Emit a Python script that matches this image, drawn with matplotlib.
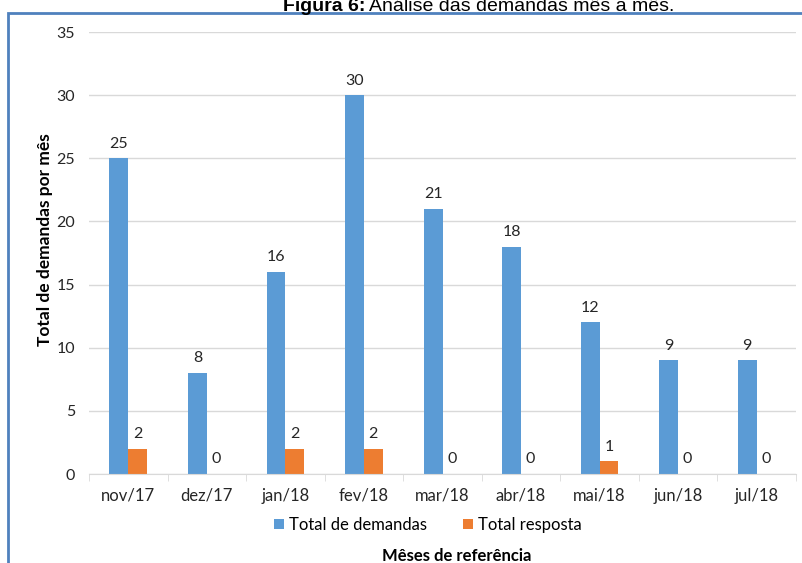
import numpy as np
import matplotlib.pyplot as plt
from matplotlib.patches import Rectangle

meses = ['nov/17', 'dez/17', 'jan/18', 'fev/18', 'mar/18', 'abr/18', 'mai/18', 'jun/18', 'jul/18']
total_demandas = [25, 8, 16, 30, 21, 18, 12, 9, 9]
total_resposta = [2, 0, 2, 2, 0, 0, 1, 0, 0]

plt.rcParams['font.family'] = ['Lato', 'DejaVu Sans']

fig = plt.figure(figsize=(8.02, 5.63), dpi=100)
ax = fig.add_axes([89/802, 1 - 474/563, (796 - 89)/802, (474 - 32)/563])

x = np.arange(len(meses))
w = 0.24
b1 = ax.bar(x - w/2, total_demandas, w, color='#5B9BD5', label='Total de demandas')
b2 = ax.bar(x + w/2, total_resposta, w, color='#ED7D31', label='Total resposta')

for rect, v in zip(b1, total_demandas):
    ax.text(rect.get_x() + rect.get_width()/2, v + 0.6, str(v), ha='center', va='bottom',
            fontsize=11.5, color='#262626')
for rect, v in zip(b2, total_resposta):
    ax.text(rect.get_x() + rect.get_width()/2, v + 0.6, str(v), ha='center', va='bottom',
            fontsize=11.5, color='#262626')

ax.set_xlim(-0.5, len(meses) - 0.5)
ax.set_ylim(0, 35)
ax.set_yticks(range(0, 36, 5))
ax.set_xticks(x)
ax.set_xticklabels(meses)
ax.set_xticks(np.arange(-0.5, len(meses), 1), minor=True)
ax.tick_params(axis='x', which='major', length=0, pad=10, labelsize=12, colors='#262626')
ax.tick_params(axis='x', which='minor', length=5, color='#D9D9D9')
ax.tick_params(axis='y', length=0, pad=10, labelsize=11.5, colors='#262626')

ax.yaxis.grid(True, color='#D9D9D9', linewidth=1)
ax.set_axisbelow(True)
for s in ['top', 'right', 'left']:
    ax.spines[s].set_visible(False)
ax.spines['bottom'].set_color('#D9D9D9')

ax.set_ylabel('Total de demandas por mês', fontsize=12.5, fontweight='bold')
ax.yaxis.set_label_coords((53 - 89)/707, (474 - 240)/442)

fig.legend(handles=[b1, b2], loc='center', bbox_to_anchor=(428/802, 1 - 525/563), ncol=2,
           frameon=False, fontsize=12, handlelength=0.6, handleheight=0.6,
           handletextpad=0.3, columnspacing=2.2)
fig.text(457/802, 1 - 556/563, 'Mêses de referência', ha='center', va='center',
         fontsize=12, fontweight='bold')

# moldura azul
fig.patches.append(Rectangle((8/802, -0.2), 1.2, 1.2 - 13/563, transform=fig.transFigure,
                             fill=False, edgecolor='#4F81BD', linewidth=2))

t1 = fig.text(283/802, 1 - 11/563, 'Figura 6:', ha='left', va='baseline', fontsize=14,
              fontweight='bold', family='Liberation Sans')
r = fig.canvas.get_renderer()
bb = t1.get_window_extent(renderer=r)
fig.text((bb.x1 + 4)/802, 1 - 11/563, 'Análise das demandas mês a mês.', ha='left',
         va='baseline', fontsize=14, family='Liberation Sans')

fig.savefig('out.png', dpi=100)
